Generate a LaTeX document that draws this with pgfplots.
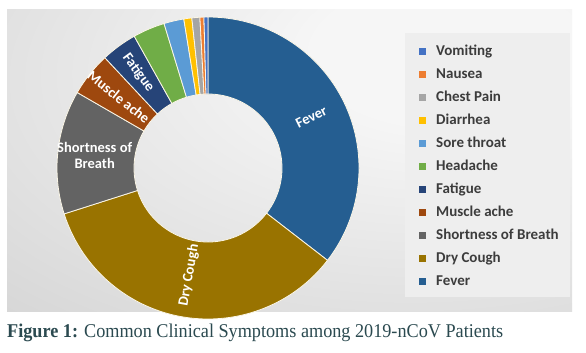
\documentclass[border=0pt]{standalone}
\usepackage{pgfplots}
\pgfplotsset{compat=1.18}
\usepackage{pgfplotstable}
\usepackage{fontspec}
\setmainfont{Carlito}
\newfontfamily\capfont{Liberation Serif}

\definecolor{c0}{HTML}{255E91}  % Fever
\definecolor{c1}{HTML}{997300}  % Dry Cough
\definecolor{c2}{HTML}{636363}  % Shortness of Breath
\definecolor{c3}{HTML}{9E480E}  % Muscle ache
\definecolor{c4}{HTML}{264478}  % Fatigue
\definecolor{c5}{HTML}{70AD47}  % Headache
\definecolor{c6}{HTML}{5B9BD5}  % Sore throat
\definecolor{c7}{HTML}{FFC000}  % Diarrhea
\definecolor{c8}{HTML}{A5A5A5}  % Chest Pain
\definecolor{c9}{HTML}{ED7D31}  % Nausea
\definecolor{c10}{HTML}{4472C4} % Vomiting
\definecolor{legtext}{HTML}{3C3C3C}
\definecolor{captext}{HTML}{2B4A50}
\definecolor{pg1}{HTML}{F6F6F6}
\definecolor{pg2}{HTML}{C2C2C2}
\definecolor{legbox}{HTML}{EEEEEE}
\definecolor{sep}{HTML}{FBF6E6}

\pgfdeclareradialshading{panelshade}{\pgfpoint{16bp}{20bp}}{color(0bp)=(pg1); color(12bp)=(pg1); color(75bp)=(pg2); color(110bp)=(pg2)}

\pgfplotstableread[col sep=comma]{
symptom,patients
Fever,83
Dry Cough,81
Shortness of Breath,31
Muscle ache,11
Fatigue,9
Headache,8
Sore throat,5
Diarrhea,2
Chest Pain,2
Nausea,1
Vomiting,1
}\symptoms

\def\symtotal{0}
\pgfplotsforeachungrouped \i in {0,...,10}{%
  \pgfplotstablegetelem{\i}{patients}\of\symptoms
  \pgfmathsetmacro\symtotal{\symtotal+\pgfplotsretval}%
}
\def\symcum{0}
\pgfplotsforeachungrouped \i in {0,...,10}{%
  \pgfplotstablegetelem{\i}{patients}\of\symptoms
  \pgfmathsetmacro\symsa{90-(\symcum/\symtotal)*360}%
  \pgfmathsetmacro\symcum{\symcum+\pgfplotsretval}%
  \pgfmathsetmacro\symea{90-(\symcum/\symtotal)*360}%
  \pgfmathsetmacro\symma{(\symsa+\symea)/2}%
  \expandafter\xdef\csname sa\i\endcsname{\symsa}%
  \expandafter\xdef\csname ea\i\endcsname{\symea}%
  \expandafter\xdef\csname ma\i\endcsname{\symma}%
}

\pgfplotsset{sqlegend/.style={legend image code/.code={\fill[##1,draw=none] (0bp,-3.5bp) rectangle (7bp,3.5bp);}}}

\newcommand\Ro{151}
\newcommand\Ri{74}
\newcommand\lblfont{\fontsize{14.5bp}{16bp}\selectfont\bfseries}

\begin{document}
\begin{tikzpicture}[x=1bp,y=1bp]
\useasboundingbox (0,0) rectangle (586,352);
\fill[white] (0,0) rectangle (586,352);
\shade[shading=panelshade] (7,41) rectangle (572,342);
\fill[legbox] (405,55) rectangle (570,319);
\begin{axis}[
  at={(0,0)}, anchor=south west,
  x=1bp, y=1bp,
  xmin=-208, xmax=378, ymin=-184, ymax=168,
  hide axis, clip=false,
  sqlegend,
  legend cell align=left,
  legend style={at={(axis cs:211,124)}, anchor=north west, draw=none, fill=none,
    inner sep=0pt, row sep=8.5bp,
    font=\fontsize{15bp}{17bp}\selectfont\bfseries, text=legtext,
    nodes={inner sep=0pt, text height=11bp, text depth=3.5bp},
    column sep=0pt},
]
\pgfplotsinvokeforeach{0,...,10}{%
  \fill[fill=c#1, draw=sep, line width=0.8bp]
    (axis cs:{\Ro*cos(\csname sa#1\endcsname)},{\Ro*sin(\csname sa#1\endcsname)})
    arc[start angle=\csname sa#1\endcsname, end angle=\csname ea#1\endcsname, radius=\Ro bp]
    -- (axis cs:{\Ri*cos(\csname ea#1\endcsname)},{\Ri*sin(\csname ea#1\endcsname)})
    arc[start angle=\csname ea#1\endcsname, end angle=\csname sa#1\endcsname, radius=\Ri bp]
    -- cycle;
}
\addlegendimage{fill=c10}\addlegendentry{\hspace{10bp}Vomiting}
\addlegendimage{fill=c9}\addlegendentry{\hspace{10bp}Nausea}
\addlegendimage{fill=c8}\addlegendentry{\hspace{10bp}Chest Pain}
\addlegendimage{fill=c7}\addlegendentry{\hspace{10bp}Diarrhea}
\addlegendimage{fill=c6}\addlegendentry{\hspace{10bp}Sore throat}
\addlegendimage{fill=c5}\addlegendentry{\hspace{10bp}Headache}
\addlegendimage{fill=c4}\addlegendentry{\hspace{10bp}Fatigue}
\addlegendimage{fill=c3}\addlegendentry{\hspace{10bp}Muscle ache}
\addlegendimage{fill=c2}\addlegendentry{\hspace{10bp}Shortness of Breath}
\addlegendimage{fill=c1}\addlegendentry{\hspace{10bp}Dry Cough}
\addlegendimage{fill=c0}\addlegendentry{\hspace{10bp}Fever}
% slice labels
\node[text=white, font=\lblfont, rotate=\csname ma0\endcsname]
  at (axis cs:{115*cos(\csname ma0\endcsname)},{115*sin(\csname ma0\endcsname)}) {Fever};
\node[text=white, font=\lblfont, rotate={\csname ma1\endcsname+180}]
  at (axis cs:{109*cos(\csname ma1\endcsname)},{109*sin(\csname ma1\endcsname)}) {Dry Cough};
\node[text=white, font=\lblfont, align=center, inner sep=0pt]
  at (axis cs:{114*cos(\csname ma2\endcsname)},{114*sin(\csname ma2\endcsname)}) {Shortness of\\Breath};
\node[text=white, font=\lblfont, rotate={\csname ma3\endcsname-180}, inner sep=0pt]
  at (axis cs:{114*cos(\csname ma3\endcsname)},{114*sin(\csname ma3\endcsname)}) {Muscle ache};
\node[text=white, font=\lblfont, rotate={\csname ma4\endcsname-180}, inner sep=0pt]
  at (axis cs:{118*cos(\csname ma4\endcsname)},{118*sin(\csname ma4\endcsname)}) {Fatigue};
\end{axis}
\node[anchor=base west, inner sep=0pt, text=captext, font=\capfont\fontsize{19.5bp}{22bp}\selectfont]
  at (7,15) {\scalebox{0.933}[1]{\textbf{Figure 1:} Common Clinical Symptoms among 2019-nCoV Patients}};
\end{tikzpicture}
\end{document}
